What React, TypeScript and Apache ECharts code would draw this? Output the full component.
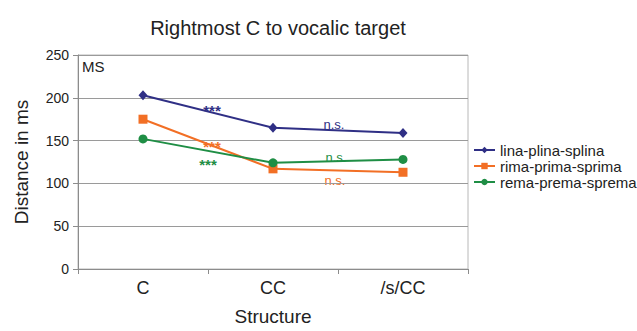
import React, { useEffect, useRef } from "react";
import * as echarts from "echarts";

const categories = ["C", "CC", "/s/CC"];
const seriesNames = ["lina-plina-splina", "rima-prima-sprima", "rema-prema-sprema"];
const linaValues = [203, 165, 159];
const rimaValues = [175, 117, 113];
const remaValues = [152, 124, 128];
const colors = ["#2f2f85", "#f26f25", "#1f8e45"];
const symbols = ["diamond", "rect", "circle"];
const symbolSizes = [9, 9, 9];

const FONT = "Liberation Sans, Arial, sans-serif";

export default function App() {
  const ref = useRef<HTMLDivElement>(null);
  useEffect(() => {
    const chart = echarts.init(ref.current!, null, { renderer: "svg" });
    const data = [linaValues, rimaValues, remaValues];
    chart.setOption({
      animation: false,
      backgroundColor: "#ffffff",
      title: {
        text: "Rightmost C to vocalic target",
        left: 273,
        top: 13,
        textAlign: "center",
        textStyle: { fontFamily: FONT, fontSize: 20, fontWeight: "normal", color: "#222" },
      },
      grid: {
        left: 78,
        right: 169,
        top: 55,
        bottom: 56,
        show: true,
        borderColor: "#b8b8b8",
        borderWidth: 1,
      },
      legend: {
        orient: "vertical",
        left: 468,
        top: 137,
        itemWidth: 21,
        itemHeight: 8,
        itemGap: 0,
        data: seriesNames,
        textStyle: { fontFamily: FONT, fontSize: 15, color: "#222", lineHeight: 16 },
      },
      xAxis: {
        type: "category",
        data: categories,
        boundaryGap: true,
        name: "Structure",
        nameLocation: "middle",
        nameGap: 38,
        nameTextStyle: { fontFamily: FONT, fontSize: 19, color: "#222" },
        axisLine: { lineStyle: { color: "#8c8c8c", width: 1 } },
        axisTick: { show: true, length: 5, lineStyle: { color: "#8c8c8c" } },
        axisLabel: { fontFamily: FONT, fontSize: 18, color: "#222", margin: 10 },
      },
      yAxis: {
        type: "value",
        min: 0,
        max: 250,
        interval: 50,
        name: "Distance in ms",
        nameLocation: "middle",
        nameGap: 47,
        nameTextStyle: { fontFamily: FONT, fontSize: 19, color: "#222" },
        axisLine: { show: true, lineStyle: { color: "#8c8c8c", width: 1 } },
        axisTick: { show: true, length: 5, lineStyle: { color: "#8c8c8c" } },
        axisLabel: { fontFamily: FONT, fontSize: 14, color: "#222", margin: 9 },
        splitLine: { show: true, lineStyle: { color: "#9a9a9a", width: 1 } },
      },
      series: seriesNames.map((name, i) => ({
        name,
        type: "line",
        data: data[i],
        color: colors[i],
        symbol: symbols[i],
        symbolSize: symbols[i] === "diamond" ? [9, 10] : symbolSizes[i],
        showAllSymbol: true,
        lineStyle: { width: 2, color: colors[i] },
        itemStyle: { color: colors[i] },
      })),
      graphic: [
        { type: "text", left: 82, top: 59, style: { text: "MS", fontFamily: FONT, fontSize: 15, fill: "#222" } },
        { type: "text", x: 212, y: 110, style: { text: "***", fontFamily: FONT, fontSize: 15, fontWeight: "bold", fill: colors[0], align: "center", verticalAlign: "middle" } },
        { type: "text", x: 212, y: 146, style: { text: "***", fontFamily: FONT, fontSize: 15, fontWeight: "bold", fill: colors[1], align: "center", verticalAlign: "middle" } },
        { type: "text", x: 208, y: 164, style: { text: "***", fontFamily: FONT, fontSize: 15, fontWeight: "bold", fill: colors[2], align: "center", verticalAlign: "middle" } },
        { type: "text", x: 334, y: 124, style: { text: "n.s.", fontFamily: FONT, fontSize: 13, fill: colors[0], align: "center", verticalAlign: "middle" } },
        { type: "text", x: 336, y: 157, style: { text: "n.s.", fontFamily: FONT, fontSize: 13, fill: colors[2], align: "center", verticalAlign: "middle" } },
        { type: "text", x: 335, y: 180, style: { text: "n.s.", fontFamily: FONT, fontSize: 13, fill: colors[1], align: "center", verticalAlign: "middle" } },
      ],
    });
    return () => chart.dispose();
  }, []);
  return <div ref={ref} style={{ position: "fixed", left: 0, top: 0, width: 637, height: 331 }} />;
}
